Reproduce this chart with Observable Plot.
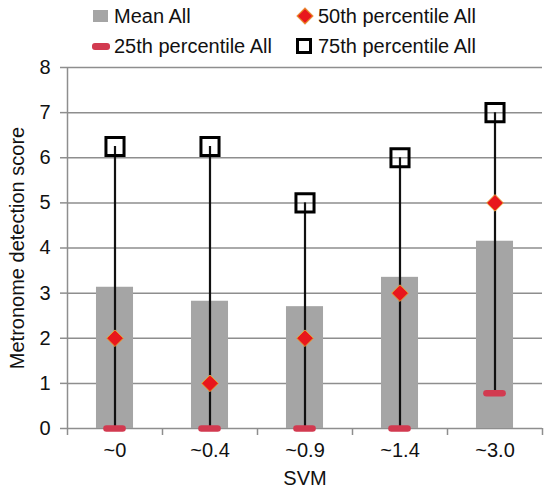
<!DOCTYPE html>
<html><head><meta charset="utf-8">
<script src="https://cdn.jsdelivr.net/npm/d3@7"></script>
<script src="https://cdn.jsdelivr.net/npm/@observablehq/plot@0.6"></script>
<style>
body{margin:0;background:#fff;font-family:"Liberation Sans",Arial,Helvetica,sans-serif;}
#legend{position:relative;width:544px;height:58px;font-size:20px;color:#111;}
#legend .t{position:absolute;line-height:20px;white-space:nowrap;}
#legend .s{position:absolute;box-sizing:border-box;}
#chart{width:544px;height:436px;}
</style></head><body>
<div id="legend"></div>
<div id="chart"></div>
<script>
const categories = ["~0","~0.4","~0.9","~1.4","~3.0"];
const meanAll = [3.13, 2.82, 2.70, 3.35, 4.15];
const p50All = [2, 1, 2, 3, 5];
const p25All = [0, 0, 0, 0, 0.78];
const p75All = [6.25, 6.25, 5, 6, 7];
const yTicks = [0,1,2,3,4,5,6,7,8];
const legendLabels = ["Mean All", "50th percentile All", "25th percentile All", "75th percentile All"];

const rows = categories.map((c, i) => ({i, cat: c, mean: meanAll[i], p25: p25All[i], p50: p50All[i], p75: p75All[i]}));
const boundaries = d3.range(categories.length + 1).map(k => k - 0.5);

const FONT = '"Liberation Sans", Arial, Helvetica, sans-serif';
const GRID = "#8e8e8e";

// Legend
const leg = document.getElementById("legend");
const items = [
  {label: legendLabels[0], sx: 93, sy: 10, sw: 15, sh: 12, style: "background:#a5a5a5;", tx: 114, ty: 16},
  {label: legendLabels[1], sx: 299, sy: 10, sw: 12, sh: 12, style: "background:#e8171d;transform:rotate(45deg);border:1px solid #e8a030;", tx: 318, ty: 16},
  {label: legendLabels[2], sx: 92, sy: 43, sw: 18, sh: 7, style: "background:#d23a50;border-radius:3px;", tx: 114, ty: 46},
  {label: legendLabels[3], sx: 296, sy: 38, sw: 16, sh: 16, style: "border:3px solid #000;background:#fff;", tx: 318, ty: 46}
];
for (const it of items) {
  const s = document.createElement("div");
  s.className = "s";
  s.style.cssText = `left:${it.sx}px;top:${it.sy}px;width:${it.sw}px;height:${it.sh}px;` + it.style;
  leg.appendChild(s);
  const t = document.createElement("div");
  t.className = "t";
  t.style.left = it.tx + "px";
  t.style.top = (it.ty - 10) + "px";
  t.textContent = it.label;
  leg.appendChild(t);
}

const chart = Plot.plot({
  width: 544,
  height: 436,
  marginTop: 9,
  marginBottom: 66,
  marginLeft: 67,
  marginRight: 2,
  style: {fontFamily: FONT, fontSize: "20px", color: "#111", background: "#fff", overflow: "visible"},
  x: {domain: [-0.5, categories.length - 0.5]},
  y: {domain: [0, 8]},
  marks: [
    Plot.ruleY(yTicks, {stroke: GRID, strokeWidth: 1.5}),
    Plot.ruleX([boundaries[0]], {stroke: GRID, strokeWidth: 1.5}),
    Plot.axisY({ticks: yTicks, tickSize: 7, tickPadding: 10, stroke: GRID, strokeWidth: 1.5, fontSize: 20,
      label: "Metronome detection score", labelAnchor: "center", labelArrow: "none", labelOffset: 58}),
    Plot.axisX({ticks: boundaries, tickSize: 7, stroke: GRID, strokeWidth: 1.5, tickFormat: () => "", label: null}),
    Plot.axisX({ticks: d3.range(categories.length), tickSize: 0, tickPadding: 14, fontSize: 20,
      tickFormat: i => categories[i], label: "SVM", labelAnchor: "center", labelArrow: "none", labelOffset: 56}),
    Plot.rectY(rows, {x1: d => d.i - 0.195, x2: d => d.i + 0.195, y: "mean", fill: "#a5a5a5"}),
    Plot.ruleX(rows, {x: "i", y1: "p25", y2: "p75", stroke: "#111", strokeWidth: 2.2}),
    Plot.ruleY(rows, {x1: d => d.i - 0.085, x2: d => d.i + 0.085, y: "p25", stroke: "#d23a50", strokeWidth: 6.5, strokeLinecap: "round"}),
    Plot.dot(rows, {x: "i", y: "p50", symbol: "diamond2", r: 7.5, fill: "#e8171d", stroke: "#e8a030", strokeWidth: 1}),
    Plot.dot(rows, {x: "i", y: "p75", symbol: "square", r: 10.2, fill: "none", stroke: "#000", strokeWidth: 3})
  ]
});
document.getElementById("chart").appendChild(chart);
</script>
</body></html>
